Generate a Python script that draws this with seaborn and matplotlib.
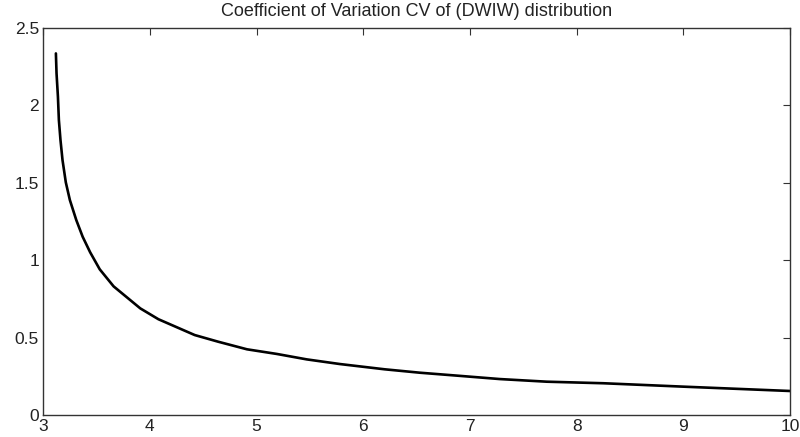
import matplotlib
matplotlib.use("Agg")
import matplotlib.pyplot as plt
import seaborn as sns
import pandas as pd

x_vals = [3.119, 3.125, 3.138, 3.147, 3.162, 3.181, 3.212, 3.25, 3.31, 3.37, 3.44, 3.53, 3.66,
          3.815, 3.91, 4.08, 4.42, 4.64, 4.91, 5.19, 5.47, 5.78, 6.2, 6.53, 6.88, 7.28, 7.72,
          8.25, 9.0, 10.0]
cv_vals = [2.333, 2.204, 2.054, 1.903, 1.774, 1.645, 1.501, 1.387, 1.258, 1.15, 1.05, 0.94, 0.83,
           0.742, 0.688, 0.618, 0.516, 0.473, 0.424, 0.394, 0.359, 0.329, 0.295, 0.273, 0.254,
           0.232, 0.215, 0.205, 0.183, 0.155]
x_ticks = [3, 4, 5, 6, 7, 8, 9, 10]
y_ticks = [0, 0.5, 1, 1.5, 2, 2.5]
y_tick_labels = ["0", "0.5", "1", "1.5", "2", "2.5"]
title = "Coefficient of Variation CV of (DWIW) distribution"

sns.set_theme(style="white")
plt.rcParams['font.family'] = ['Liberation Sans', 'DejaVu Sans']

df = pd.DataFrame({"x": x_vals, "cv": cv_vals})
fig = plt.figure(figsize=(8, 4.37), dpi=100)
ax = fig.add_axes([0.054, 0.0503, 0.9335, 0.8867])
sns.lineplot(data=df, x="x", y="cv", ax=ax, color="black", linewidth=1.9)
ax.set_xlim(3, 10)
ax.set_ylim(0, 2.5)
ax.set_xticks(x_ticks)
ax.set_xticklabels([str(t) for t in x_ticks])
ax.set_yticks(y_ticks)
ax.set_yticklabels(y_tick_labels)
ax.set_xlabel("")
ax.set_ylabel("")
for s in ax.spines.values():
    s.set_visible(True)
    s.set_color("#333333")
    s.set_linewidth(1.0)
ax.tick_params(direction="in", length=5, width=0.8, color="#333333", top=True, right=True,
               labelsize=12.5, labelcolor="#222222", pad=3)
ax.set_title(title, fontsize=13, color="#222222", pad=8)
fig.savefig("out.png", dpi=100)
